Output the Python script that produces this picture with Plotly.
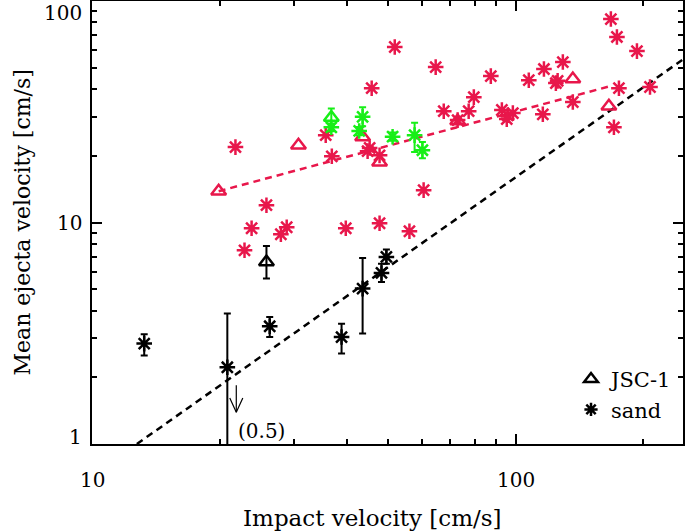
import plotly.graph_objects as go
import numpy as np

RED = '#e8174b'
GREEN = '#17ef17'
BLACK = '#000000'
FONT = 'DejaVu Serif'

# ---------------- data ----------------
# red: sand (asterisks)
red_sand_x = [21.8, 51.8, 64.7, 45.7, 67.6, 35.6, 36.8, 45.2, 44.7, 47.7, 60.6,
              25.8, 23.8, 28.8, 27.9, 22.9, 39.7, 47.7, 56.1,
              87.3, 79.6, 77.4, 72.9, 92.7, 95.7, 98.4, 95.2,
              107.3, 116.5, 129.1, 124.3, 125.5, 115.8, 136.3,
              167.6, 173.2, 193.1, 175.1, 170.4, 207.3]
red_sand_y = [21.9, 62.0, 50.3, 40.4, 31.8, 24.8, 19.9, 21.7, 21.0, 20.1, 14.0,
              11.97, 9.42, 9.52, 8.85, 7.49, 9.42, 9.92, 9.13,
              45.8, 36.8, 31.8, 29.0, 32.2, 30.5, 31.2, 29.3,
              43.9, 49.3, 53.0, 42.6, 43.6, 30.8, 35.0,
              82.9, 68.8, 59.4, 40.4, 26.9, 40.9]
# red: JSC-1 (triangles)
red_jsc_x = [19.9, 30.7, 43.5, 47.7, 72.9, 136.3, 165.8]
red_jsc_y = [13.84, 22.3, 24.3, 18.7, 28.7, 44.4, 33.5]

# green: JSC-1 and sand with error bars
green_jsc_x = [36.7]
green_jsc_y = [29.8]
green_jsc_hi = [32.7]
green_jsc_lo = [27.3]
green_sand_x = [36.7, 43.5, 42.7, 51.2, 57.7, 60.2]
green_sand_y = [26.9, 30.0, 25.9, 24.4, 24.8, 21.2]
green_sand_hi = [28.0, 33.1, 27.0, 25.5, 28.2, 23.1]
green_sand_lo = [25.8, 27.2, 24.8, 23.4, 20.8, 19.5]

# black: JSC-1 and sand with error bars
black_jsc_x = [25.8]
black_jsc_y = [6.63]
black_jsc_hi = [7.83]
black_jsc_lo = [5.58]
black_sand_x = [13.28, 20.86, 26.26, 38.8, 43.5, 48.2, 49.5]
black_sand_y = [2.84, 2.22, 3.40, 3.04, 5.03, 5.92, 6.99]
black_sand_hi = [3.13, 3.88, 3.74, 3.49, 6.92, 6.52, 7.55]
black_sand_lo = [2.51, 0.5, 3.04, 2.56, 3.15, 5.39, 6.52]

# fitted / reference lines
jsc_fit_x = [19.9, 165.0]
jsc_fit_y = [13.84, 41.0]
sand_line_x = [12.76, 248.0]
sand_line_y = [1.0, 54.5]

# lower-limit note (arrow pointing down towards the off-axis value 0.5)
limit_x = 21.9
limit_top_y = 1.84
limit_head_y = 1.39
limit_head_wx = 1.036   # multiplicative half-width of the arrow head (log x)
limit_head_hy = 1.16    # multiplicative height of the arrow head (log y)
limit_label = '(0.5)'
limit_label_x = 25.1
limit_label_y = 1.15

# axes
x_range = [10, 248]
y_range = [1, 100]
x_major = [10, 100]
x_minor = [20, 30, 40, 50, 60, 70, 80, 90, 200]
y_major = [1, 10, 100]
y_minor = [2, 3, 4, 5, 6, 7, 8, 9, 20, 30, 40, 50, 60, 70, 80, 90]

x_title = 'Impact velocity [cm/s]'
y_title = 'Mean ejecta velocity [cm/s]'
legend_names = ['JSC-1', 'sand']

# ---------------- figure ----------------
def err(y, hi, lo):
    return dict(type='data', symmetric=False,
                array=[h - v for h, v in zip(hi, y)],
                arrayminus=[v - l for v, l in zip(y, lo)])

fig = go.Figure()

AST = dict(symbol='asterisk-open', size=13)
TRI = dict(symbol='triangle-up-open', size=13)

fig.add_trace(go.Scatter(x=jsc_fit_x, y=jsc_fit_y, mode='lines', showlegend=False,
                         line=dict(color=RED, width=2.5, dash='7px,5px')))
fig.add_trace(go.Scatter(x=sand_line_x, y=sand_line_y, mode='lines', showlegend=False,
                         line=dict(color=BLACK, width=2.5, dash='7px,5px')))

fig.add_trace(go.Scatter(x=red_sand_x, y=red_sand_y, mode='markers', showlegend=False,
                         marker=dict(**AST, color=RED, line=dict(color=RED, width=2.5))))
fig.add_trace(go.Scatter(x=red_jsc_x, y=red_jsc_y, mode='markers', showlegend=False,
                         marker=dict(**TRI, color=RED, line=dict(color=RED, width=2.5))))

fig.add_trace(go.Scatter(x=green_jsc_x, y=green_jsc_y, mode='markers', showlegend=False,
                         error_y=dict(**err(green_jsc_y, green_jsc_hi, green_jsc_lo),
                                      color=GREEN, thickness=2, width=3.5),
                         marker=dict(**TRI, color=GREEN, line=dict(color=GREEN, width=2.5))))
fig.add_trace(go.Scatter(x=green_sand_x, y=green_sand_y, mode='markers', showlegend=False,
                         error_y=dict(**err(green_sand_y, green_sand_hi, green_sand_lo),
                                      color=GREEN, thickness=2, width=3.5),
                         marker=dict(**AST, color=GREEN, line=dict(color=GREEN, width=2.5))))

fig.add_trace(go.Scatter(x=black_jsc_x, y=black_jsc_y, mode='markers', showlegend=False,
                         error_y=dict(**err(black_jsc_y, black_jsc_hi, black_jsc_lo),
                                      color=BLACK, thickness=2, width=3.5),
                         marker=dict(**TRI, color=BLACK, line=dict(color=BLACK, width=2.5))))
fig.add_trace(go.Scatter(x=black_sand_x, y=black_sand_y, mode='markers', showlegend=False,
                         error_y=dict(**err(black_sand_y, black_sand_hi, black_sand_lo),
                                      color=BLACK, thickness=2, width=3.5),
                         marker=dict(**AST, color=BLACK, line=dict(color=BLACK, width=2.5))))

# lower-limit arrow (thin shaft + open V head)
head_top = limit_head_y * limit_head_hy
fig.add_trace(go.Scatter(
    x=[limit_x, limit_x, None, limit_x / limit_head_wx, limit_x, limit_x * limit_head_wx],
    y=[limit_top_y, limit_head_y, None, head_top, limit_head_y, head_top],
    mode='lines', showlegend=False, hoverinfo='skip',
    line=dict(color=BLACK, width=1.2)))

# legend entries (black symbols)
fig.add_trace(go.Scatter(x=[None], y=[None], mode='markers', name=legend_names[0],
                         marker=dict(symbol='triangle-up-open', size=12, color=BLACK,
                                     line=dict(color=BLACK, width=2.5))))
fig.add_trace(go.Scatter(x=[None], y=[None], mode='markers', name=legend_names[1],
                         marker=dict(symbol='asterisk-open', size=11, color=BLACK,
                                     line=dict(color=BLACK, width=2.5))))

annotations = []
for v in y_major:
    shift = {100: -12, 10: 0, 1: 7}[v]
    annotations.append(dict(x=0, xref='paper', y=np.log10(v), yref='y', text=str(v),
                            showarrow=False, xanchor='right', yanchor='middle',
                            xshift=-8, yshift=shift,
                            font=dict(family=FONT, size=20, color='black')))
for v in x_major:
    annotations.append(dict(x=np.log10(v), xref='x', y=0, yref='paper', text=str(v),
                            showarrow=False, xanchor='center', yanchor='middle',
                            yshift=-36, font=dict(family=FONT, size=20, color='black')))
annotations.append(dict(x=0.474, xref='paper', y=0, yref='paper', text=x_title,
                        showarrow=False, xanchor='center', yanchor='middle', yshift=-74,
                        font=dict(family=FONT, size=23, color='black')))
annotations.append(dict(x=0, xref='paper', y=0.5, yref='paper', text=y_title,
                        showarrow=False, xanchor='center', yanchor='middle', xshift=-70,
                        textangle=-90, font=dict(family=FONT, size=22, color='black')))
annotations.append(dict(x=np.log10(limit_label_x), y=np.log10(limit_label_y), xref='x', yref='y',
                        text=limit_label, showarrow=False, xanchor='center', yanchor='middle',
                        font=dict(family=FONT, size=20, color='black')))

axis_common = dict(type='log', showgrid=False, zeroline=False, showline=True,
                   linecolor='black', linewidth=2, mirror='allticks', ticks='inside',
                   ticklen=10, tickwidth=2, tickcolor='black', showticklabels=False)

fig.update_layout(
    width=685, height=531,
    margin=dict(l=92, r=2, t=1, b=87, autoexpand=False),
    paper_bgcolor='white', plot_bgcolor='white',
    font=dict(family=FONT, size=20, color='black'),
    xaxis=dict(**axis_common, range=[np.log10(x_range[0]), np.log10(x_range[1])],
               tickmode='array', tickvals=x_major,
               minor=dict(tickmode='array', tickvals=x_minor, ticks='inside', ticklen=5,
                          tickwidth=2, tickcolor='black', showgrid=False)),
    yaxis=dict(**axis_common, range=[np.log10(y_range[0]), np.log10(y_range[1])],
               tickmode='array', tickvals=y_major,
               minor=dict(tickmode='array', tickvals=y_minor, ticks='inside', ticklen=5,
                          tickwidth=2, tickcolor='black', showgrid=False)),
    legend=dict(x=0.8105, y=0.192, xanchor='left', yanchor='top', bgcolor='rgba(0,0,0,0)',
                font=dict(family=FONT, size=21, color='black'), tracegroupgap=0,
                itemsizing='trace'),
    annotations=annotations,
)

fig.write_html('out.html', config={'displayModeBar': False},
               post_script="document.body.style.margin='0px';document.body.style.padding='0px';")
